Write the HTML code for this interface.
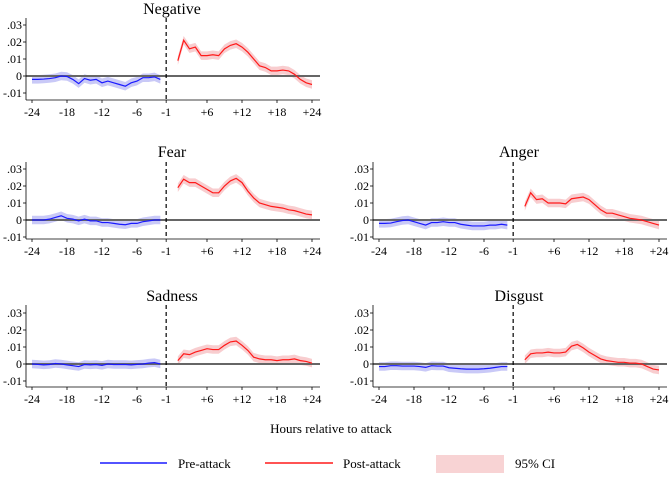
<!DOCTYPE html>
<html><head><meta charset="utf-8"><style>
body{margin:0;background:#fff;}
svg text{font-family:"Liberation Serif",serif;fill:#000;}
</style></head><body>
<svg id="chart" width="669" height="475" xmlns="http://www.w3.org/2000/svg"></svg>
<script>
const preHours=[-24,-23,-22,-21,-20,-19,-18,-17,-16,-15,-14,-13,-12,-11,-10,-9,-8,-7,-6,-5,-4,-3,-2];
const postHours=[1,2,3,4,5,6,7,8,9,10,11,12,13,14,15,16,17,18,19,20,21,22,23,24];
const xTicks=[-24,-18,-12,-6,-1,6,12,18,24];
const xTickLabels=["-24","-18","-12","-6","-1","+6","+12","+18","+24"];
const yTicks=[0.03,0.02,0.01,0,-0.01];
const yTickLabels=[".03",".02",".01","0","-.01"];
const ciHalf=0.0025;
const negPre=[-.002,-.002,-.0018,-.0015,-.001,0,-.0003,-.002,-.0045,-.0015,-.0025,-.002,-.004,-.003,-.004,-.005,-.006,-.004,-.003,-.001,-.001,-.0005,-.002];
const negPost=[.009,.021,.016,.017,.012,.012,.0125,.012,.016,.018,.019,.017,.014,.010,.006,.005,.003,.003,.0035,.003,.001,-.002,-.004,-.005];
const fearPre=[0,0,0,.0005,.0015,.0025,.001,.0005,-.0005,.0005,-.0005,-.0005,-.0015,-.0015,-.002,-.0025,-.0028,-.002,-.002,-.001,-.0005,0,0];
const fearPost=[.019,.024,.022,.022,.020,.018,.016,.016,.020,.023,.0245,.022,.017,.013,.010,.009,.008,.0075,.007,.006,.0055,.0045,.0035,.003];
const angerPre=[-.002,-.002,-.0018,-.001,-.0003,0,-.001,-.002,-.003,-.0015,-.0015,-.001,-.0015,-.0015,-.0025,-.003,-.0035,-.0035,-.0035,-.003,-.003,-.0025,-.003];
const angerPost=[.008,.016,.012,.0125,.010,.010,.010,.0095,.0125,.013,.0135,.012,.009,.006,.004,.004,.003,.002,.001,.0005,0,-.001,-.002,-.003];
const sadPre=[0,-.0002,-.0005,-.0003,.0003,0,-.0005,-.001,-.0015,-.0003,-.0005,-.0003,-.0008,0,-.0003,-.0003,-.0003,-.0005,-.0002,0,.0005,.0008,0];
const sadPost=[.002,.006,.0055,.007,.008,.009,.0085,.0085,.011,.013,.0135,.011,.008,.004,.003,.0025,.0025,.002,.0025,.0025,.003,.002,.0015,.0005];
const disPre=[-.0015,-.0015,-.001,-.001,-.0012,-.0012,-.0012,-.0015,-.002,-.001,-.0012,-.0012,-.0022,-.0025,-.0028,-.003,-.003,-.003,-.0028,-.0025,-.002,-.0015,-.0015];
const disPost=[.0025,.006,.0065,.0065,.007,.0065,.0065,.007,.0105,.0115,.0095,.007,.005,.003,.002,.0015,.001,.001,.0005,.0005,0,-.0015,-.003,-.0035];

const NS="http://www.w3.org/2000/svg";
const svg=document.getElementById('chart');
function mk(tag,attrs,parent){const e=document.createElementNS(NS,tag);for(const k in attrs)e.setAttribute(k,attrs[k]);(parent||svg).appendChild(e);return e;}

const panels=[
 {key:'negative',title:'Negative',pre:negPre,post:negPost,xl:26,x0:32,x1:312,xr:320,y0:76,top:18,axis:100,ty:14},
 {key:'fear',title:'Fear',pre:fearPre,post:fearPost,xl:26,x0:32,x1:312,xr:320,y0:220,top:162,axis:239,ty:157},
 {key:'anger',title:'Anger',pre:angerPre,post:angerPost,xl:373,x0:379,x1:659,xr:667,y0:220,top:162,axis:239,ty:157},
 {key:'sadness',title:'Sadness',pre:sadPre,post:sadPost,xl:26,x0:32,x1:312,xr:320,y0:364,top:305,axis:387,ty:301},
 {key:'disgust',title:'Disgust',pre:disPre,post:disPost,xl:373,x0:379,x1:659,xr:667,y0:364,top:305,axis:387,ty:301}
];
const step=1700;
panels.forEach(p=>{
 const g=mk('g',{});
 
 
 const X=h=>p.x0+(h+24)*(p.x1-p.x0)/48;
 const Y=v=>p.y0-v*step;
 const t=mk('text',{x:(p.x0+p.x1)/2,y:p.ty,'text-anchor':'middle','font-size':'16'},g);
 t.textContent=p.title;
 
 
 [[p.pre,preHours,'#c9c9f7','pre'],[p.post,postHours,'#f8cdcf','post']].forEach(([vals,hrs,col,nm])=>{
  let up=hrs.map((h,i)=>X(h)+','+Y(vals[i]+ciHalf));
  let lo=hrs.map((h,i)=>X(h)+','+Y(vals[i]-ciHalf)).reverse();
  const b=mk('polygon',{points:up.concat(lo).join(' '),fill:col},g);
  
  
 });
 const z=mk('line',{x1:p.xl,x2:p.xr,y1:Y(0),y2:Y(0),stroke:'#666','stroke-width':'2'},g);
 
 
 [[p.pre,preHours,'#1a1aff','pre'],[p.post,postHours,'#ff1a1a','post']].forEach(([vals,hrs,col,nm])=>{
  const l=mk('polyline',{points:hrs.map((h,i)=>X(h)+','+Y(vals[i])).join(' '),fill:'none',stroke:col,'stroke-width':'1.2'},g);
  
  
 });
 const d=mk('line',{x1:X(-1),x2:X(-1),y1:p.top,y2:p.axis,stroke:'#000','stroke-width':'1.2','stroke-dasharray':'4,3'},g);
 
 
 const ya=mk('line',{x1:p.xl,x2:p.xl,y1:p.top,y2:p.axis,stroke:'#000','stroke-width':'0.8'},g);
 
 
 const xa=mk('line',{x1:p.xl,x2:p.xr,y1:p.axis,y2:p.axis,stroke:'#000','stroke-width':'0.8'},g);
 
 
 yTicks.forEach((v,i)=>{
  mk('line',{x1:p.xl-3,x2:p.xl,y1:Y(v),y2:Y(v),stroke:'#000','stroke-width':'0.8'},g);
  const tt=mk('text',{x:p.xl-4,y:Y(v)+4,'text-anchor':'end','font-size':'12'},g);
  tt.textContent=yTickLabels[i];
  
  
 });
 xTicks.forEach((h,i)=>{
  mk('line',{x1:X(h),x2:X(h),y1:p.axis,y2:p.axis+3,stroke:'#000','stroke-width':'0.8'},g);
  const tt=mk('text',{x:X(h),y:p.axis+16,'text-anchor':'middle','font-size':'12'},g);
  tt.textContent=xTickLabels[i];
  
  
 });
});
const xt=mk('text',{x:331,y:433,'text-anchor':'middle','font-size':'13'});
xt.textContent='Hours relative to attack';


const lg=mk('g',{});


mk('line',{x1:100,x2:167,y1:463,y2:463,stroke:'#1a1aff','stroke-width':'1.5'},lg);
let t1=mk('text',{x:178,y:468,'font-size':'13'},lg);t1.textContent='Pre-attack';


mk('line',{x1:265,x2:333,y1:463,y2:463,stroke:'#ff1a1a','stroke-width':'1.5'},lg);
let t2=mk('text',{x:343,y:468,'font-size':'13'},lg);t2.textContent='Post-attack';


mk('rect',{x:436,y:455,width:68,height:18,fill:'#f8d3d4'},lg);
let t3=mk('text',{x:515,y:468,'font-size':'13'},lg);t3.textContent='95% CI';


</script>
</body></html>
